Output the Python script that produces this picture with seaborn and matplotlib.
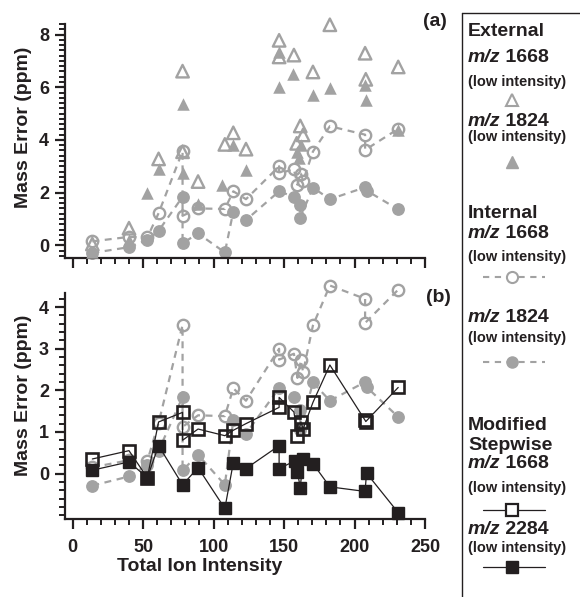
import matplotlib
matplotlib.use("Agg")
import matplotlib.pyplot as plt
from matplotlib.lines import Line2D
from matplotlib.text import Annotation
from matplotlib.ticker import MultipleLocator
import pandas as pd
import seaborn as sns

# ---------------- data ----------------
# External calibration (panel a only, markers without lines)
ext1668_x = [14, 40, 61, 78, 78, 89, 108, 114, 123, 146.5, 146.5, 157, 159, 161.5,
             163.5, 170.5, 182.5, 207.5, 208, 231]
ext1668_y = [0.05, 0.65, 3.28, 6.61, 3.55, 2.42, 3.83, 4.27, 3.65, 7.78, 7.15, 7.22,
             3.87, 4.53, 4.19, 6.58, 8.37, 7.29, 6.3, 6.77]

ext1824_x = [14, 40, 53, 61, 78, 78, 89, 106, 114, 123, 146.5, 146.5, 156.5, 159,
             160.5, 162, 170.5, 182.5, 207.5, 208, 231]
ext1824_y = [-0.25, 0.2, 1.98, 2.88, 5.35, 2.73, 1.58, 2.29, 3.82, 2.85, 7.34, 6.0,
             6.51, 3.55, 3.33, 3.81, 5.7, 5.97, 6.1, 5.53, 4.38]

# Internal calibration (both panels, dashed lines)
int1668_x = [14, 40, 53, 61, 78, 78, 89, 108, 114, 123, 146.5, 146.5, 157, 159.5,
             162, 163.5, 170.5, 182.5, 207.5, 207.5, 231]
int1668_y = [0.15, 0.32, 0.3, 1.22, 3.57, 1.12, 1.4, 1.38, 2.05, 1.75, 3.0, 2.74,
             2.88, 2.3, 2.72, 2.44, 3.56, 4.52, 4.2, 3.62, 4.42]

int1824_x = [14, 40, 53, 61, 78, 78, 89, 108, 114, 123, 146.5, 157, 161.5, 161.5,
             170.5, 182.5, 207.5, 208.5, 231]
int1824_y = [-0.29, -0.07, 0.2, 0.55, 1.84, 0.08, 0.45, -0.27, 1.28, 0.96, 2.05,
             1.84, 1.52, 1.05, 2.19, 1.75, 2.2, 2.08, 1.36]

# Modified stepwise calibration (panel b, solid lines)
step1668_x = [14, 40, 53, 61, 78, 78, 89, 108, 114, 123, 146.5, 146.5, 157, 159.5,
              162, 163.5, 170.5, 182.5, 207.5, 208, 231]
step1668_y = [0.35, 0.55, -0.1, 1.24, 1.47, 0.80, 1.07, 0.91, 1.04, 1.2, 1.59, 1.83,
              1.48, 0.91, 1.24, 1.07, 1.71, 2.61, 1.28, 1.25, 2.07]

step2284_x = [14, 40, 53, 61, 78, 89, 108, 114, 123, 146.5, 146.5, 157.5, 159.5,
              161.5, 163.5, 170.5, 182.5, 207.5, 208.5, 231]
step2284_y = [0.08, 0.28, -0.1, 0.67, -0.27, 0.14, -0.84, 0.26, 0.12, 0.67, 0.12,
              0.3, 0.04, -0.34, 0.34, 0.24, -0.32, -0.43, 0.01, -0.94]

x_ticks = [0, 50, 100, 150, 200, 250]
ya_ticks = [0, 2, 4, 6, 8]
yb_ticks = [0, 1, 2, 3, 4]

# ---------------- style ----------------
sns.set_theme(style="ticks")
plt.rcParams["font.family"] = ["Liberation Sans", "DejaVu Sans"]
plt.rcParams["font.weight"] = "bold"
plt.rcParams["lines.scale_dashes"] = False

GREY = "#a2a2a2"
BLACK = "#231f20"
DASH = [5, 4]

W, H = 580, 597
fig = plt.figure(figsize=(W / 100, H / 100), dpi=100)


def fx(px):
    return px / W


def fy(py):
    return 1 - py / H


ax_a = fig.add_axes([fx(65), fy(257.7), 360 / W, (257.7 - 24) / H])
ax_b = fig.add_axes([fx(65), fy(519.3), 360 / W, (519.3 - 293) / H])


def line_series(ax, xs, ys, marker, filled, color, lw, dashed, ms, mew):
    df = pd.DataFrame({"x": xs, "y": ys})
    sns.lineplot(data=df, x="x", y="y", sort=False, estimator=None, ax=ax,
                 color=color, lw=lw, marker=marker, markersize=ms,
                 markeredgewidth=mew, markeredgecolor=color,
                 markerfacecolor=color if filled else "none", clip_on=False)
    if dashed:
        ax.lines[-1].set_dashes(DASH)


def point_series(ax, xs, ys, marker, filled, color, ms, mew):
    df = pd.DataFrame({"x": xs, "y": ys})
    sns.scatterplot(data=df, x="x", y="y", ax=ax, marker=marker, s=ms ** 2,
                    color=color, edgecolor=color,
                    facecolors=color if filled else "none",
                    linewidth=mew if not filled else 0, zorder=4, clip_on=False)


for ax in (ax_a, ax_b):
    line_series(ax, int1668_x, int1668_y, "o", False, GREY, 1.6, True, 8.2, 1.7)
    line_series(ax, int1824_x, int1824_y, "o", True, GREY, 1.6, True, 8.2, 1.0)

point_series(ax_a, ext1668_x, ext1668_y, "^", False, GREY, 9, 1.7)
point_series(ax_a, ext1824_x, ext1824_y, "^", True, GREY, 9, 1.6)

line_series(ax_b, step1668_x, step1668_y, "s", False, BLACK, 0.9, False, 8.5, 1.9)
line_series(ax_b, step2284_x, step2284_y, "s", True, BLACK, 0.9, False, 8.5, 1.0)

# ---------------- axes ----------------
for ax in (ax_a, ax_b):
    ax.set_xlim(-5.4, 250)
    ax.set_xticks(x_ticks)
    ax.xaxis.set_minor_locator(MultipleLocator(10))
    ax.yaxis.set_minor_locator(MultipleLocator(0.2))
    sns.despine(ax=ax)
    for s in ("left", "bottom"):
        ax.spines[s].set_linewidth(1.6)
        ax.spines[s].set_color(BLACK)
    ax.tick_params(which="major", length=7.5, width=1.6, color=BLACK,
                   labelsize=13, pad=4, labelcolor=BLACK)
    ax.tick_params(axis="x", which="major", pad=7)
    ax.tick_params(which="minor", length=4, width=1.4, color=BLACK)
    ax.set_ylabel("Mass Error (ppm)", fontsize=14, fontweight="bold", color=BLACK)

ax_a.set_ylim(-0.47, 8.4)
ax_a.set_yticks(ya_ticks)
ax_a.set_xlabel("")
ax_a.tick_params(axis="x", labelbottom=False)
ax_a.yaxis.set_label_coords(-0.092, 0.56)

ax_b.set_ylim(-1.1, 4.34)
ax_b.set_yticks(yb_ticks)
ax_b.yaxis.set_label_coords(-0.092, 0.55)
ax_b.set_xlabel("Total Ion Intensity", fontsize=14, fontweight="bold", color=BLACK)
ax_b.xaxis.set_label_coords(0.375, -0.17)

for ax in (ax_a, ax_b):
    for lab in ax.get_xticklabels() + ax.get_yticklabels():
        lab.set_fontweight("bold")

fig.text(fx(435), fy(21), "(a)", fontsize=14, fontweight="bold", color=BLACK,
         ha="center", va="center")
fig.text(fx(438), fy(297), "(b)", fontsize=14, fontweight="bold", color=BLACK,
         ha="center", va="center")

# ---------------- legend panel ----------------
fig.add_artist(Line2D([fx(462), fx(462)], [fy(13), fy(600)], color=BLACK, lw=1.0,
                      transform=fig.transFigure))
fig.add_artist(Line2D([fx(462), fx(590)], [fy(13), fy(13)], color=BLACK, lw=1.0,
                      transform=fig.transFigure))

TX = fx(468)


def title(py, s):
    fig.text(TX, fy(py), s, fontsize=14, fontweight="bold", color=BLACK,
             ha="left", va="center")


def mz(py, num):
    t = fig.text(TX, fy(py), "m/z", fontsize=14, fontweight="bold",
                 style="italic", color=BLACK, ha="left", va="center")
    ann = Annotation(" " + num, xy=(1, 0), xycoords=t, fontsize=14,
                     fontweight="bold", color=BLACK, ha="left", va="bottom",
                     annotation_clip=False)
    fig.add_artist(ann)


def sub(py):
    fig.text(TX, fy(py), "(low intensity)", fontsize=10.5, fontweight="bold",
             color=BLACK, ha="left", va="center")


def key(py, marker, filled, color, ls, ms, mew, lw=1.0):
    if ls is not None:
        ln = Line2D([fx(483), fx(545)], [fy(py), fy(py)], color=color, lw=lw,
                    transform=fig.transFigure)
        if ls == "dash":
            ln.set_dashes([4.5, 4])
        fig.add_artist(ln)
    fig.add_artist(Line2D([fx(512)], [fy(py)], marker=marker, ms=ms, mew=mew,
                          mec=color, mfc=color if filled else "white", ls="none",
                          transform=fig.transFigure))


title(32, "External")
mz(58, "1668")
sub(82)
key(100, "^", False, GREY, None, 9, 1.5)
mz(122, "1824")
sub(137)
key(162, "^", True, GREY, None, 9, 1.0)

title(213, "Internal")
mz(233, "1668")
sub(257)
key(277, "o", False, GREY, "dash", 8, 1.5, 1.5)
mz(318, "1824")
sub(338)
key(362, "o", True, GREY, "dash", 8, 1.0, 1.5)

title(425, "Modified")
title(445, "Stepwise")
mz(464, "1668")
sub(488)
key(510, "s", False, BLACK, "solid", 8, 1.6, 0.9)
mz(530, "2284")
sub(548)
key(567, "s", True, BLACK, "solid", 8, 1.0, 0.9)

fig.savefig("out.png", dpi=100)
